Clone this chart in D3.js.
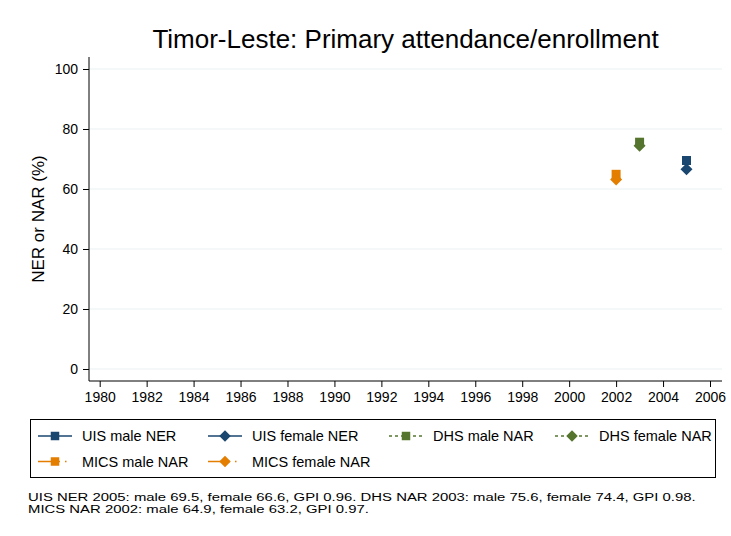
<!DOCTYPE html>
<html>
<head>
<meta charset="utf-8">
<script src="https://cdn.jsdelivr.net/npm/d3@7"></script>
<style>
  body { margin: 0; background: #fff; }
  svg text { font-family: "Liberation Sans", Arial, sans-serif; fill: #000; }
</style>
</head>
<body>
<div id="chart"></div>
<script>
// data
const chartTitle = "Timor-Leste: Primary attendance/enrollment";
const yLabel = "NER or NAR (%)";
const xTicks = d3.range(1980, 2007, 2);
const yTicks = [0, 20, 40, 60, 80, 100];

const uisYears = [2005];
const uisMale = [69.5];
const uisFemale = [66.6];
const dhsYears = [2003];
const dhsMale = [75.6];
const dhsFemale = [74.4];
const micsYears = [2002];
const micsMale = [64.9];
const micsFemale = [63.2];

const notes = [
  "UIS NER 2005: male 69.5, female 66.6, GPI 0.96. DHS NAR 2003: male 75.6, female 74.4, GPI 0.98.",
  "MICS NAR 2002: male 64.9, female 63.2, GPI 0.97."
];

const navy = "#1a476f", green = "#55752f", orange = "#e37e00";

const series = [
  { name: "UIS male NER", years: uisYears, values: uisMale, color: navy, marker: "square", dash: null },
  { name: "UIS female NER", years: uisYears, values: uisFemale, color: navy, marker: "diamond", dash: null },
  { name: "DHS male NAR", years: dhsYears, values: dhsMale, color: green, marker: "square", dash: "3,3" },
  { name: "DHS female NAR", years: dhsYears, values: dhsFemale, color: green, marker: "diamond", dash: "3,3" },
  { name: "MICS male NAR", years: micsYears, values: micsMale, color: orange, marker: "square", dash: "22,5,1.5,8" },
  { name: "MICS female NAR", years: micsYears, values: micsFemale, color: orange, marker: "diamond", dash: "22,5,1.5,8" }
];

const width = 731, height = 536;
const plot = { left: 89, right: 722, top: 57, bottom: 381 };

const x = d3.scaleLinear().domain([1980, 2006]).range([99.7, 710]);
const y = d3.scaleLinear().domain([0, 100]).range([369, 69]);

const svg = d3.select("#chart").append("svg")
  .attr("width", width)
  .attr("height", height);

// title
svg.append("text")
  .attr("x", (plot.left + plot.right) / 2)
  .attr("y", 48)
  .attr("text-anchor", "middle")
  .style("font-size", "26px")
  .text(chartTitle);

// gridlines
svg.append("g").selectAll("line")
  .data(yTicks)
  .enter().append("line")
  .attr("x1", plot.left).attr("x2", plot.right)
  .attr("y1", d => y(d)).attr("y2", d => y(d))
  .attr("stroke", "#eaf2f3")
  .attr("stroke-width", 1.2);

// y axis
const yAxis = svg.append("g")
  .attr("transform", "translate(" + plot.left + ",0)")
  .call(d3.axisLeft(y).tickValues(yTicks).tickSize(6).tickPadding(5));
yAxis.select(".domain").attr("d", "M0," + plot.top + "V" + plot.bottom);
yAxis.selectAll("text").style("font-size", "14px");

// x axis
const xAxis = svg.append("g")
  .attr("transform", "translate(0," + plot.bottom + ")")
  .call(d3.axisBottom(x).tickValues(xTicks).tickFormat(d3.format("d")).tickSize(6).tickPadding(5));
xAxis.select(".domain").attr("d", "M" + plot.left + ",0H" + plot.right);
xAxis.selectAll("text").style("font-size", "14px");

svg.selectAll(".domain").attr("stroke", "#000");
svg.selectAll(".tick line").attr("stroke", "#000");

// y label
svg.append("text")
  .attr("transform", "translate(44," + ((plot.top + plot.bottom) / 2) + ") rotate(-90)")
  .attr("text-anchor", "middle")
  .style("font-size", "17px")
  .text(yLabel);

function markerPath(type, size) {
  const s = size / 2;
  if (type === "square") return "M" + (-s) + "," + (-s) + "H" + s + "V" + s + "H" + (-s) + "Z";
  return "M0," + (-s) + "L" + s + ",0L0," + s + "L" + (-s) + ",0Z";
}

// series lines and markers
const line = d3.line().x(d => x(d[0])).y(d => y(d[1]));
series.forEach(function(s) {
  const pts = s.years.map((yr, i) => [yr, s.values[i]]);
  svg.append("path")
    .attr("d", line(pts))
    .attr("fill", "none")
    .attr("stroke", s.color)
    .attr("stroke-width", 1.5)
    .attr("stroke-dasharray", s.dash);
  svg.append("g").selectAll("path")
    .data(pts)
    .enter().append("path")
    .attr("transform", d => "translate(" + x(d[0]) + "," + y(d[1]) + ")")
    .attr("d", markerPath(s.marker, s.marker === "square" ? 9 : 12))
    .attr("fill", s.color);
});

// legend
const legend = svg.append("g");
legend.append("rect")
  .attr("x", 30.5).attr("y", 419.5)
  .attr("width", 685).attr("height", 58)
  .attr("fill", "none")
  .attr("stroke", "#000")
  .attr("stroke-width", 1);

const colX = [38, 208, 389, 555];
const rowY = [436, 461.5];
series.forEach(function(s, i) {
  const lx = colX[i % 4], ly = rowY[Math.floor(i / 4)];
  const g = legend.append("g");
  g.append("line")
    .attr("x1", lx).attr("x2", lx + 34)
    .attr("y1", ly).attr("y2", ly)
    .attr("stroke", s.color)
    .attr("stroke-width", 1.5)
    .attr("stroke-dasharray", s.dash);
  g.append("path")
    .attr("transform", "translate(" + (lx + 17) + "," + ly + ")")
    .attr("d", markerPath(s.marker, s.marker === "square" ? 8.5 : 11.5))
    .attr("fill", s.color);
  g.append("text")
    .attr("x", lx + 44)
    .attr("y", ly + 5)
    .style("font-size", "14.5px")
    .text(s.name);
});

// notes: the reference text is wider than its height suggests, so stretch it
svg.append("g")
  .attr("transform", "translate(28,0) scale(1.295,1)")
  .selectAll("text")
  .data(notes)
  .enter().append("text")
  .attr("x", 0)
  .attr("y", (d, i) => 500.7 + i * 12.3)
  .style("font-size", "11.5px")
  .text(d => d);
</script>
</body>
</html>
